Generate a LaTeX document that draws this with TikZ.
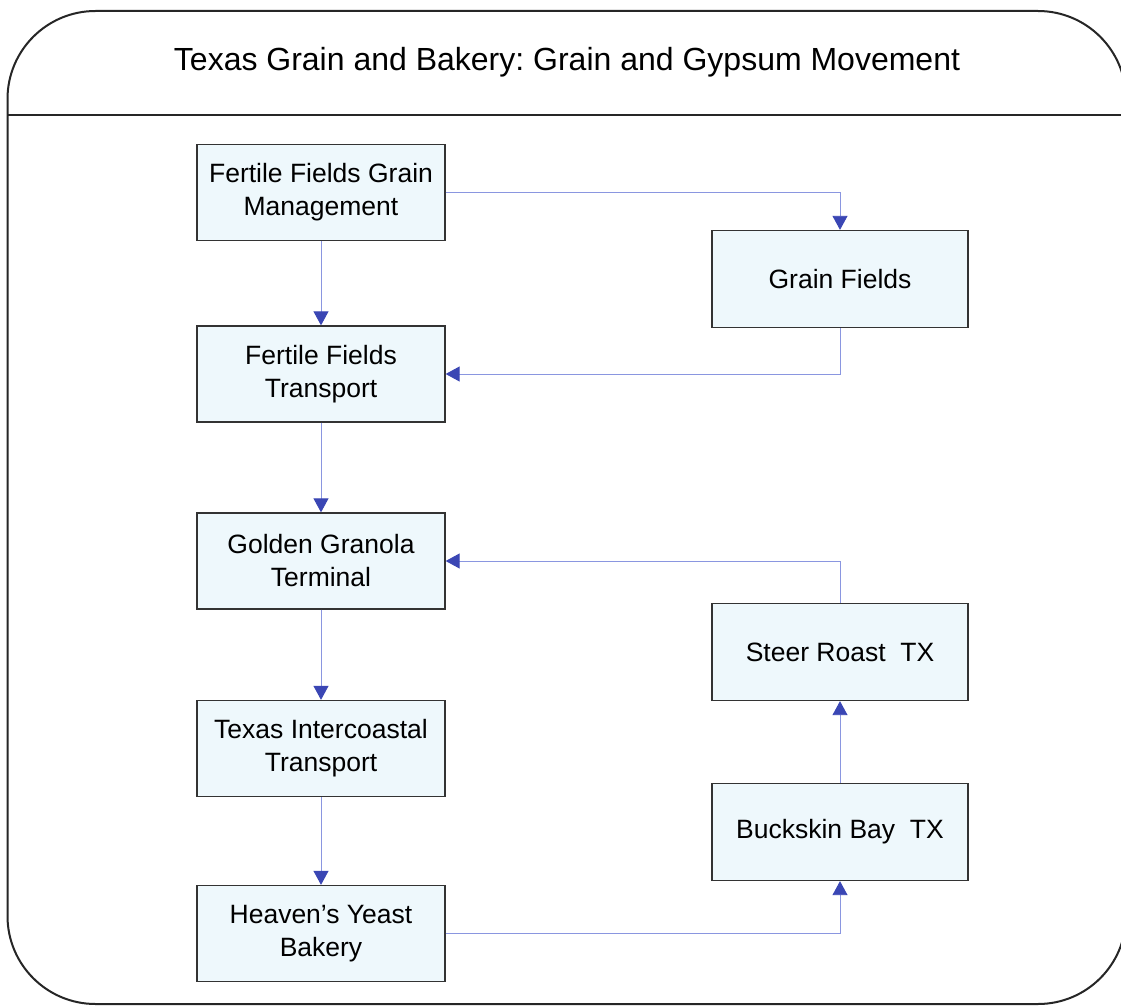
\documentclass[tikz,border=0pt]{standalone}
\usepackage{fontspec}
\setmainfont{Liberation Sans}
\frenchspacing
\usetikzlibrary{arrows.meta,positioning}
\definecolor{boxfill}{HTML}{EEF8FC}
\definecolor{boxline}{HTML}{333333}
\definecolor{linkblue}{HTML}{8A96E0}
\definecolor{tipblue}{HTML}{3A46B4}
\tikzset{
  flowbox/.style={draw=boxline, line width=1.3pt, fill=boxfill, rectangle,
    align=center, inner sep=0pt, font=\fontsize{26.5}{33}\selectfont},
  leftbox/.style={flowbox, minimum width=248pt, minimum height=96pt},
  rightbox/.style={flowbox, minimum width=256pt, minimum height=97pt},
  link/.style={draw=linkblue, line width=0.9pt,
    -{Triangle[length=14pt,width=15pt,color=tipblue]}},
  frame/.style={draw=black!85, line width=2pt}
}
\begin{document}
\begin{tikzpicture}[x=1pt,y=-1pt]
\useasboundingbox (0,0) rectangle (1121,1008);
\fill[white] (0,0) rectangle (1121,1008);
% outer frame
\draw[frame, rounded corners=88pt] (7.5,11) rectangle (1126,1004);
\draw[frame] (7.5,115) -- (1126,115);
\node[font=\fontsize{32}{38}\selectfont] (title) at (567,62) {Texas Grain and Bakery: Grain and Gypsum Movement};
% left column
\node[leftbox] (b1) at (321,192.5) {Fertile Fields Grain\\Management};
\node[leftbox] (b2) at (321,374) {Fertile Fields\\Transport};
\node[leftbox] (b3) at (321,561) {Golden Granola\\Terminal};
\node[leftbox] (b4) at (321,748.5) {Texas Intercoastal\\Transport};
\node[leftbox] (b5) at (321,933.5) {Heaven’s Yeast\\Bakery};
% right column
\node[rightbox] (gf) at (840,279) {Grain Fields};
\node[rightbox] (sr) at (840,652) {Steer Roast\ \ TX};
\node[rightbox] (bb) at (840,832) {Buckskin Bay\ \ TX};
% connectors
\draw[link] (b1.east) -| (gf.north);
\draw[link] (b1.south) -- (b2.north);
\draw[link] (gf.south) |- (b2.east);
\draw[link] (b2.south) -- (b3.north);
\draw[link] (sr.north) |- (b3.east);
\draw[link] (b3.south) -- (b4.north);
\draw[link] (b4.south) -- (b5.north);
\draw[link] (b5.east) -| (bb.south);
\draw[link] (bb.north) -- (sr.south);
\end{tikzpicture}
\end{document}
